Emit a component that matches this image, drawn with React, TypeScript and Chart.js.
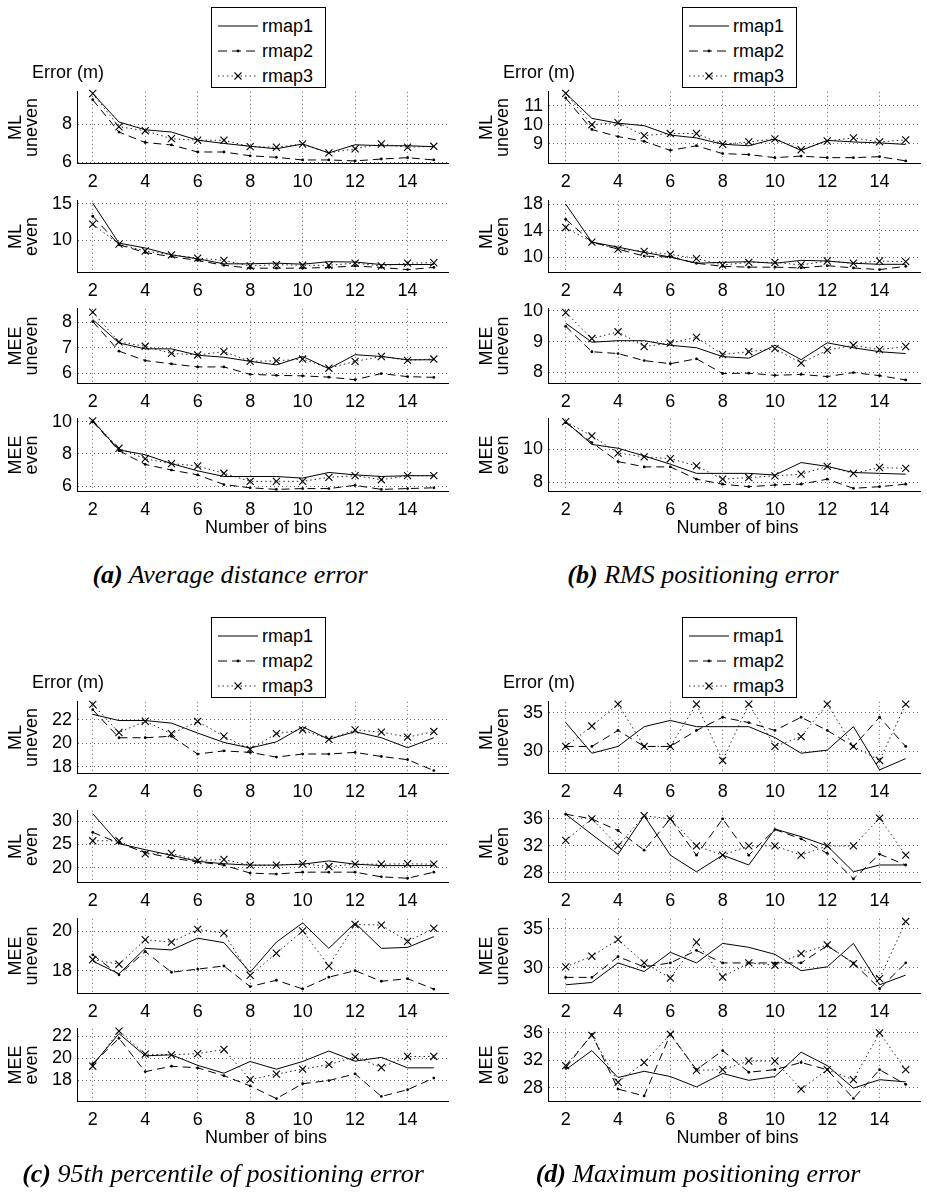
import React, { useEffect, useRef } from 'react';
import { Chart, registerables } from 'chart.js';

Chart.register(...registerables);

// ---------- shared categories / ticks ----------
const bins = [2, 3, 4, 5, 6, 7, 8, 9, 10, 11, 12, 13, 14, 15];
const xTicks = [2, 4, 6, 8, 10, 12, 14];
const seriesNames = ['rmap1', 'rmap2', 'rmap3'];
const rowTitles = [['ML', 'uneven'], ['ML', 'even'], ['MEE', 'uneven'], ['MEE', 'even']];
const xLabel = 'Number of bins';
const yLabel = 'Error (m)';

// ---------- (a) Average distance error ----------
const aMLunevenR1 = [9.63, 8.13, 7.72, 7.6, 7.17, 7.0, 6.85, 6.72, 6.97, 6.5, 6.93, 6.88, 6.88, 6.83];
const aMLunevenR2 = [9.3, 7.6, 7.05, 6.92, 6.55, 6.55, 6.35, 6.27, 6.13, 6.13, 6.08, 6.18, 6.25, 6.13];
const aMLunevenR3 = [9.63, 7.88, 7.67, 7.25, 7.17, 7.17, 6.83, 6.8, 6.97, 6.5, 6.72, 6.97, 6.8, 6.85];
const aMLevenR1 = [15.1, 9.57, 8.9, 7.95, 7.4, 6.7, 6.7, 6.8, 6.65, 7.0, 6.95, 6.6, 6.6, 6.6];
const aMLevenR2 = [13.3, 9.35, 8.26, 7.7, 7.17, 6.5, 6.1, 6.1, 6.1, 6.2, 6.4, 6.2, 5.9, 6.2];
const aMLevenR3 = [12.2, 9.43, 8.48, 7.95, 7.5, 7.17, 6.4, 6.6, 6.5, 6.5, 6.8, 6.4, 6.8, 6.85];
const aMEEunevenR1 = [8.11, 7.19, 6.96, 6.96, 6.71, 6.63, 6.47, 6.33, 6.66, 6.18, 6.73, 6.66, 6.53, 6.53];
const aMEEunevenR2 = [8.03, 6.87, 6.5, 6.37, 6.25, 6.25, 5.96, 5.92, 5.9, 5.85, 5.75, 5.99, 5.87, 5.84];
const aMEEunevenR3 = [8.4, 7.23, 7.06, 6.78, 6.72, 6.85, 6.47, 6.49, 6.56, 6.2, 6.47, 6.66, 6.51, 6.56];
const aMEEevenR1 = [10.05, 8.25, 7.95, 7.4, 6.95, 6.6, 6.6, 6.6, 6.5, 6.85, 6.7, 6.6, 6.65, 6.65];
const aMEEevenR2 = [10.0, 8.2, 7.35, 7.0, 6.7, 6.1, 5.9, 5.8, 5.85, 5.85, 6.05, 5.8, 5.85, 5.9];
const aMEEevenR3 = [10.05, 8.35, 7.7, 7.4, 7.25, 6.8, 6.3, 6.3, 6.3, 6.55, 6.65, 6.4, 6.65, 6.65];

// ---------- (b) RMS positioning error ----------
const bMLunevenR1 = [11.64, 10.33, 10.08, 9.95, 9.46, 9.31, 8.98, 8.9, 9.26, 8.66, 9.18, 9.1, 9.05, 8.97];
const bMLunevenR2 = [11.39, 9.75, 9.38, 9.13, 8.66, 8.9, 8.49, 8.44, 8.28, 8.36, 8.28, 8.28, 8.33, 8.11];
const bMLunevenR3 = [11.64, 10.0, 10.11, 9.43, 9.54, 9.54, 8.98, 9.1, 9.26, 8.69, 9.15, 9.31, 9.1, 9.21];
const bMLevenR1 = [18.0, 12.26, 11.5, 10.7, 10.0, 9.06, 9.2, 9.3, 9.06, 9.5, 9.4, 9.06, 8.9, 8.9];
const bMLevenR2 = [15.7, 12.26, 11.2, 10.14, 10.0, 9.06, 8.6, 8.47, 8.47, 8.35, 8.7, 8.35, 8.1, 8.6];
const bMLevenR3 = [14.47, 12.26, 11.2, 10.85, 10.4, 9.76, 8.8, 9.2, 9.2, 8.8, 9.4, 9.06, 9.4, 9.3];
const bMEEunevenR1 = [9.6, 8.98, 9.03, 9.03, 8.88, 8.8, 8.51, 8.46, 8.88, 8.41, 8.96, 8.8, 8.67, 8.61];
const bMEEunevenR2 = [9.5, 8.67, 8.61, 8.38, 8.28, 8.44, 7.96, 7.97, 7.9, 7.93, 7.86, 7.99, 7.89, 7.75];
const bMEEunevenR3 = [9.95, 9.1, 9.32, 8.84, 8.95, 9.14, 8.58, 8.67, 8.77, 8.3, 8.72, 8.88, 8.74, 8.84];
const bMEEevenR1 = [11.66, 10.29, 10.06, 9.6, 9.1, 8.55, 8.55, 8.55, 8.45, 9.2, 8.97, 8.6, 8.55, 8.5];
const bMEEevenR2 = [11.6, 10.4, 9.26, 8.94, 8.94, 8.2, 7.9, 7.75, 7.85, 7.9, 8.2, 7.65, 7.75, 7.9];
const bMEEevenR3 = [11.66, 10.8, 9.77, 9.54, 9.43, 9.0, 8.2, 8.3, 8.4, 8.5, 8.97, 8.55, 8.9, 8.85];

// ---------- (c) 95th percentile of positioning error ----------
const cMLunevenR1 = [22.48, 21.95, 21.95, 21.73, 20.88, 20.08, 19.6, 20.13, 21.41, 20.35, 21.0, 20.48, 19.63, 20.48];
const cMLunevenR2 = [22.88, 20.48, 20.48, 20.61, 19.09, 19.36, 19.23, 18.83, 19.09, 19.09, 19.23, 18.88, 18.61, 17.68];
const cMLunevenR3 = [23.33, 20.93, 21.89, 20.83, 21.87, 20.61, 19.49, 20.83, 21.15, 20.35, 21.15, 20.96, 20.53, 21.01];
const cMLevenR1 = [31.6, 25.2, 23.9, 22.7, 21.4, 20.9, 20.6, 20.6, 20.8, 21.5, 20.8, 20.5, 20.5, 20.5];
const cMLevenR2 = [27.6, 25.3, 23.3, 22.1, 21.3, 20.6, 18.9, 18.7, 19.1, 19.1, 19.1, 18.1, 17.8, 19.1];
const cMLevenR3 = [25.8, 25.8, 23.0, 23.1, 21.6, 21.8, 20.6, 20.6, 20.9, 20.3, 20.8, 20.8, 20.9, 20.8];
const cMEEunevenR1 = [18.49, 17.84, 19.14, 19.06, 19.66, 19.43, 17.92, 19.46, 20.44, 19.14, 20.44, 19.14, 19.19, 19.74];
const cMEEunevenR2 = [18.81, 17.79, 18.98, 17.92, 18.08, 18.24, 17.19, 17.51, 17.07, 17.67, 18.0, 17.46, 17.59, 17.06];
const cMEEunevenR3 = [18.57, 18.33, 19.58, 19.46, 20.11, 19.92, 17.76, 18.89, 20.03, 18.24, 20.36, 20.33, 19.5, 20.16];
const cMEEevenR1 = [19.42, 22.26, 20.23, 20.32, 19.36, 18.64, 19.71, 19.01, 19.71, 20.67, 19.74, 20.09, 19.13, 19.13];
const cMEEevenR2 = [19.51, 21.83, 18.78, 19.28, 19.13, 18.41, 17.48, 16.32, 17.68, 17.97, 18.58, 16.52, 17.13, 18.2];
const cMEEevenR3 = [19.28, 22.49, 20.38, 20.32, 20.43, 20.81, 18.06, 18.55, 19.01, 19.42, 20.14, 19.16, 20.17, 20.17];

// ---------- (d) Maximum positioning error ----------
const dMLunevenR1 = [33.7, 29.72, 30.6, 33.17, 33.98, 33.17, 33.17, 33.17, 31.75, 29.72, 30.12, 33.17, 27.56, 29.02];
const dMLunevenR2 = [30.6, 30.6, 32.68, 30.6, 30.6, 32.68, 34.39, 33.7, 32.68, 34.39, 32.68, 30.6, 34.39, 30.6];
const dMLunevenR3 = [30.6, 33.25, 36.1, 30.6, 30.6, 36.1, 28.78, 36.1, 30.6, 31.87, 36.1, 30.6, 28.78, 36.1];
const dMLevenR1 = [36.7, 33.7, 30.77, 36.47, 30.63, 28.16, 30.63, 29.17, 34.5, 33.37, 32.0, 28.16, 29.17, 29.17];
const dMLevenR2 = [36.7, 36.0, 34.28, 31.36, 36.0, 30.63, 36.0, 30.63, 34.42, 33.05, 30.9, 27.11, 30.77, 29.17];
const dMLevenR3 = [32.82, 36.0, 32.0, 36.47, 36.0, 32.0, 30.63, 32.0, 32.0, 30.63, 32.0, 32.0, 36.1, 30.63];
const dMEEunevenR1 = [27.8, 28.1, 30.6, 29.5, 31.96, 30.6, 33.1, 32.6, 31.7, 29.6, 30.1, 33.1, 27.8, 29.04];
const dMEEunevenR2 = [28.75, 28.75, 31.4, 30.1, 30.6, 32.2, 30.6, 30.6, 30.6, 30.6, 32.8, 30.6, 27.3, 30.6];
const dMEEunevenR3 = [30.1, 31.46, 33.6, 30.6, 28.67, 33.25, 28.8, 30.6, 30.3, 31.8, 32.9, 30.5, 28.6, 35.9];
const dMEEevenR1 = [30.63, 33.42, 29.49, 30.4, 29.63, 28.12, 30.08, 29.08, 29.63, 33.19, 31.22, 27.94, 29.17, 28.85];
const dMEEevenR2 = [30.9, 35.8, 27.8, 26.8, 35.8, 30.63, 33.42, 30.26, 30.63, 31.68, 30.63, 26.43, 30.63, 28.48];
const dMEEevenR3 = [31.22, 35.65, 28.8, 31.68, 35.8, 30.54, 30.63, 31.9, 31.9, 27.8, 30.63, 29.17, 36.0, 30.63];

// ---------- y tick labels and axis limits per subplot ----------
const aYTicks = [[6, 8], [10, 15], [6, 7, 8], [6, 8, 10]];
const bYTicks = [[9, 10, 11], [10, 14, 18], [8, 9, 10], [8, 10]];
const cYTicks = [[18, 20, 22], [20, 25, 30], [18, 20], [18, 20, 22]];
const dYTicks = [[30, 35], [28, 32, 36], [30, 35], [28, 32, 36]];
const aYLim = [[5.97, 9.72], [5.57, 15.43], [5.62, 8.53], [5.7, 10.18]];
const bYLim = [[8.0, 11.72], [7.74, 18.5], [7.65, 10.07], [7.49, 11.83]];
const cYLim = [[17.47, 23.55], [17.0, 32.2], [16.86, 20.65], [16.1, 22.7]];
const dYLim = [[27.15, 36.4], [26.65, 37.2], [26.75, 36.25], [26.06, 36.6]];

const captions = [
  ['(a)', 'Average distance error'],
  ['(b)', 'RMS positioning error'],
  ['(c)', '95th percentile of positioning error'],
  ['(d)', 'Maximum positioning error'],
];

const panelsData = [
  { series: [[aMLunevenR1, aMLunevenR2, aMLunevenR3], [aMLevenR1, aMLevenR2, aMLevenR3], [aMEEunevenR1, aMEEunevenR2, aMEEunevenR3], [aMEEevenR1, aMEEevenR2, aMEEevenR3]], ticks: aYTicks, lims: aYLim },
  { series: [[bMLunevenR1, bMLunevenR2, bMLunevenR3], [bMLevenR1, bMLevenR2, bMLevenR3], [bMEEunevenR1, bMEEunevenR2, bMEEunevenR3], [bMEEevenR1, bMEEevenR2, bMEEevenR3]], ticks: bYTicks, lims: bYLim },
  { series: [[cMLunevenR1, cMLunevenR2, cMLunevenR3], [cMLevenR1, cMLevenR2, cMLevenR3], [cMEEunevenR1, cMEEunevenR2, cMEEunevenR3], [cMEEevenR1, cMEEevenR2, cMEEevenR3]], ticks: cYTicks, lims: cYLim },
  { series: [[dMLunevenR1, dMLunevenR2, dMLunevenR3], [dMLevenR1, dMLevenR2, dMLevenR3], [dMEEunevenR1, dMEEunevenR2, dMEEunevenR3], [dMEEevenR1, dMEEevenR2, dMEEevenR3]], ticks: dYTicks, lims: dYLim },
];

// ---------- layout (positions, styles) ----------
const PANEL_LAYOUT = [
  { ox: 0, oy: 0, L: 77, R: 455, xMin: 1.4, xMax: 15.575, capX: 230, capY: 575 },
  { ox: 471, oy: 0, L: 548, R: 927, xMin: 1.323, xMax: 15.58, capX: 703, capY: 575 },
  { ox: 0, oy: 610, L: 77, R: 455, xMin: 1.4, xMax: 15.575, capX: 223, capY: 1174 },
  { ox: 471, oy: 610, L: 548, R: 927, xMin: 1.323, xMax: 15.58, capX: 698, capY: 1174 },
];
const ROW_TOP = [88, 197, 305, 415];
const ROW_BOT = [163, 272, 383, 491];
const PAD_T = 12;
const X_H = 30;
const FONT = '"Liberation Sans", Arial, Helvetica, sans-serif';
const GRID_COLOR = 'rgba(0,0,0,0.6)';

type SubProps = {
  left: number; top: number; width: number; height: number; yAxisW: number;
  xMin: number; xMax: number; yMin: number; yMax: number; yTicks: number[];
  title: string[]; series: number[][];
};

function SubPlot(p: SubProps) {
  const ref = useRef<HTMLCanvasElement | null>(null);
  useEffect(() => {
    if (!ref.current) return;
    const mk = (vals: number[]) => bins.map((b, i) => ({ x: b, y: vals[i] }));
    const chart = new Chart(ref.current, {
      type: 'line',
      data: {
        datasets: [
          {
            label: seriesNames[0], data: mk(p.series[0]), borderColor: '#000', borderWidth: 1,
            pointRadius: 0, fill: false, tension: 0, clip: false,
          },
          {
            label: seriesNames[1], data: mk(p.series[1]), borderColor: '#000', borderWidth: 1,
            borderDash: [8, 5], pointStyle: 'circle', pointRadius: 1.4, pointBackgroundColor: '#000',
            pointBorderColor: '#000', pointBorderWidth: 0, fill: false, tension: 0, clip: false,
          },
          {
            label: seriesNames[2], data: mk(p.series[2]), borderColor: '#222', borderWidth: 1,
            borderDash: [1.5, 3], pointStyle: 'crossRot', pointRadius: 5, pointBorderColor: '#000',
            pointBorderWidth: 1.1, fill: false, tension: 0, clip: false,
          },
        ],
      },
      options: {
        animation: false,
        responsive: false,
        maintainAspectRatio: false,
        events: [],
        layout: { padding: { top: PAD_T, left: 0, right: 0, bottom: 0 } },
        plugins: { legend: { display: false }, tooltip: { enabled: false }, title: { display: false } },
        scales: {
          x: {
            type: 'linear', min: p.xMin, max: p.xMax,
            afterBuildTicks: (s: any) => { s.ticks = xTicks.map((v) => ({ value: v })); },
            afterFit: (s: any) => { s.height = X_H; },
            grid: { display: true, color: GRID_COLOR, lineWidth: 1, drawTicks: false },
            border: { display: true, color: '#000', width: 1, dash: [1, 3] },
            ticks: { color: '#000', font: { family: FONT, size: 18 }, padding: 8, maxRotation: 0, autoSkip: false },
          },
          y: {
            type: 'linear', min: p.yMin, max: p.yMax,
            afterBuildTicks: (s: any) => { s.ticks = p.yTicks.map((v) => ({ value: v })); },
            afterFit: (s: any) => { s.width = p.yAxisW; },
            grid: { display: true, color: GRID_COLOR, lineWidth: 1, drawTicks: false },
            border: { display: true, color: '#000', width: 1, dash: [1, 3] },
            ticks: { color: '#000', font: { family: FONT, size: 18 }, padding: 5, autoSkip: false },
            title: {
              display: true, text: p.title, color: '#000',
              font: { family: FONT, size: 18, lineHeight: 0.88 },
              padding: { top: 8, bottom: 0 },
            },
          },
        },
      } as any,
    });
    return () => chart.destroy();
  }, []);
  return (
    <canvas
      ref={ref}
      width={p.width}
      height={p.height}
      style={{ position: 'absolute', left: p.left, top: p.top, width: p.width, height: p.height }}
    />
  );
}

function LegendSample({ kind }: { kind: number }) {
  return (
    <svg width={40} height={12} style={{ display: 'block' }}>
      {kind === 0 && <line x1={0} y1={6} x2={40} y2={6} stroke="#000" strokeWidth={1} />}
      {kind === 1 && (
        <g>
          <line x1={0} y1={6} x2={40} y2={6} stroke="#000" strokeWidth={1} strokeDasharray="9 5" />
          <circle cx={20} cy={6} r={1.4} fill="#000" />
        </g>
      )}
      {kind === 2 && (
        <g>
          <line x1={0} y1={6} x2={40} y2={6} stroke="#333" strokeWidth={1} strokeDasharray="1.5 3" />
          <line x1={16.5} y1={2.5} x2={23.5} y2={9.5} stroke="#000" strokeWidth={1.1} />
          <line x1={16.5} y1={9.5} x2={23.5} y2={2.5} stroke="#000" strokeWidth={1.1} />
        </g>
      )}
    </svg>
  );
}

function Panel({ idx }: { idx: number }) {
  const lay = PANEL_LAYOUT[idx];
  const pd = panelsData[idx];
  const width = lay.R - lay.ox;
  const cx = (lay.L + lay.R) / 2;
  return (
    <>
      {ROW_TOP.map((t, r) => (
        <SubPlot
          key={r}
          left={lay.ox}
          top={lay.oy + t - PAD_T}
          width={width}
          height={ROW_BOT[r] - t + PAD_T + X_H}
          yAxisW={lay.L - lay.ox}
          xMin={lay.xMin}
          xMax={lay.xMax}
          yMin={pd.lims[r][0]}
          yMax={pd.lims[r][1]}
          yTicks={pd.ticks[r]}
          title={rowTitles[r]}
          series={pd.series[r]}
        />
      ))}
      {/* y-axis unit label */}
      <div style={{ position: 'absolute', left: lay.ox + 32, top: lay.oy + 61, font: `18px ${FONT}`, lineHeight: '22px', whiteSpace: 'nowrap', color: '#000' }}>
        {yLabel}
      </div>
      {/* legend */}
      <div style={{ position: 'absolute', left: lay.ox + 211, top: lay.oy + 7, width: 115, height: 81, boxSizing: 'border-box', border: '1px solid #000', background: '#fff' }}>
        {seriesNames.map((n, i) => (
          <div key={n} style={{ position: 'absolute', left: 6, top: 7 + i * 25, height: 22, display: 'flex', alignItems: 'center' }}>
            <LegendSample kind={i} />
            <span style={{ marginLeft: 4, font: `18px ${FONT}`, lineHeight: '22px', color: '#000' }}>{n}</span>
          </div>
        ))}
      </div>
      {/* x-axis label */}
      <div style={{ position: 'absolute', left: cx - 150, width: 300, top: lay.oy + 516, textAlign: 'center', font: `18px ${FONT}`, lineHeight: '22px', color: '#000' }}>
        {xLabel}
      </div>
      {/* caption */}
      <div style={{ position: 'absolute', left: lay.capX - 250, width: 500, top: lay.capY - 16, textAlign: 'center', font: `italic 26px "Liberation Serif", "Times New Roman", serif`, lineHeight: '32px', color: '#000', whiteSpace: 'nowrap' }}>
        <b>{captions[idx][0]}</b> {captions[idx][1]}
      </div>
    </>
  );
}

export default function App() {
  return (
    <div style={{ position: 'absolute', left: 0, top: 0, width: 927, height: 1196, overflow: 'hidden', background: '#fff' }}>
      {[0, 1, 2, 3].map((i) => <Panel key={i} idx={i} />)}
    </div>
  );
}
